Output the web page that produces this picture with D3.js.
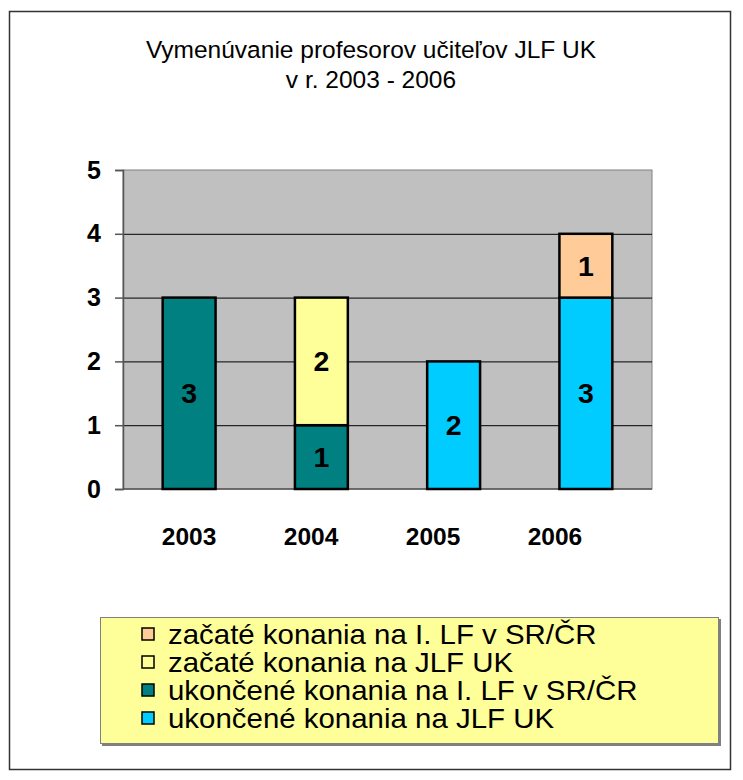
<!DOCTYPE html>
<html>
<head>
<meta charset="utf-8">
<script src="https://cdn.jsdelivr.net/npm/d3@7"></script>
<style>
  body { margin: 0; background: #fff; }
  svg { display: block; font-family: "Liberation Sans", Arial, sans-serif; }
</style>
</head>
<body>
<svg class="svg"></svg>
<script>
let years = ["2003", "2004", "2005", "2006"]
// stacked bottom -> top
let seriesNames = ["ukončené konania na JLF UK",
                   "ukončené konania na I. LF v SR/ČR",
                   "začaté konania na JLF UK",
                   "začaté konania na I. LF v SR/ČR"]
let ukonceneJLF = [0, 0, 2, 3]
let ukonceneILF = [3, 1, 0, 0]
let zacateJLF = [0, 2, 0, 0]
let zacateILF = [0, 0, 0, 1]
let yTicks = [0, 1, 2, 3, 4, 5]
let titleLines = ["Vymenúvanie profesorov učiteľov JLF UK", "v r. 2003 - 2006"]
let colorArr = ["#00CCFF", "#008080", "#FFFF99", "#FFCC99"]

let W = 743, H = 780
let svg = d3.select(".svg").attr("width", W).attr("height", H)

// outer chart border
svg.append("rect")
   .attr("x", 9.5).attr("y", 11.5)
   .attr("width", 721).attr("height", 758)
   .attr("fill", "#fff")
   .attr("stroke", "#333").attr("stroke-width", 1.5)

svg.selectAll(".title")
   .data(titleLines)
   .enter()
   .append("text")
   .attr("class", "title")
   .attr("x", 371)
   .attr("y", (d, i) => 58 + i * 30)
   .attr("text-anchor", "middle")
   .style("font-size", "24.5px")
   .text(d => d)

let plot = {left: 123, right: 652, top: 170, bottom: 489}

let x = d3.scaleBand().domain(years).range([plot.left, plot.right]).paddingInner(0.6).paddingOuter(0.3)
let y = d3.scaleLinear().domain([0, 5]).range([plot.bottom, plot.top])

// plot area
svg.append("rect")
   .attr("x", plot.left).attr("y", plot.top)
   .attr("width", plot.right - plot.left).attr("height", plot.bottom - plot.top)
   .attr("fill", "#C0C0C0")
   .attr("stroke", "#808080").attr("stroke-width", 1)

// gridlines
svg.append("g")
   .selectAll("line")
   .data(yTicks.slice(1, -1))
   .enter()
   .append("line")
   .attr("x1", plot.left).attr("x2", plot.right)
   .attr("y1", d => y(d) + 0.5).attr("y2", d => y(d) + 0.5)
   .attr("stroke", "#000").attr("stroke-width", 1)

// y axis
let yAxis = d3.axisLeft(y).tickValues(yTicks).tickSize(8).tickPadding(14).tickFormat(d3.format("d"))
let yG = svg.append("g").attr("transform", "translate(" + plot.left + ",0)").call(yAxis)
yG.select(".domain").attr("stroke", "#555").attr("stroke-width", 1.5)
yG.selectAll(".tick line").attr("stroke", "#555").attr("stroke-width", 1.5)
yG.selectAll("text")
  .style("font-size", "25px").style("font-weight", "bold")
  .style("font-family", "'Liberation Sans', Arial, sans-serif")
  .attr("fill", "#000")

// baseline
svg.append("line")
   .attr("x1", plot.left).attr("x2", plot.right)
   .attr("y1", plot.bottom).attr("y2", plot.bottom)
   .attr("stroke", "#555").attr("stroke-width", 1.5)

// stacked data
let table = years.map((yr, i) => {
  return {year: yr, s0: ukonceneJLF[i], s1: ukonceneILF[i], s2: zacateJLF[i], s3: zacateILF[i]}
})
let stack = d3.stack().keys(["s0", "s1", "s2", "s3"])
let layers = stack(table)

let layerG = svg.selectAll(".layer")
   .data(layers)
   .enter()
   .append("g")
   .attr("class", "layer")
   .attr("fill", (d, i) => colorArr[i])

layerG.selectAll("rect")
   .data(d => d.filter(p => p[1] > p[0]))
   .enter()
   .append("rect")
   .attr("x", d => x(d.data.year))
   .attr("y", d => y(d[1]))
   .attr("width", x.bandwidth())
   .attr("height", d => y(d[0]) - y(d[1]))
   .attr("stroke", "#000")
   .attr("stroke-width", 2.5)

layerG.selectAll("text")
   .data(d => d.filter(p => p[1] > p[0]))
   .enter()
   .append("text")
   .attr("x", d => x(d.data.year) + x.bandwidth() / 2)
   .attr("y", d => (y(d[0]) + y(d[1])) / 2 + 10)
   .attr("text-anchor", "middle")
   .attr("fill", "#000")
   .style("font-size", "28.5px")
   .style("font-weight", "bold")
   .text(d => d[1] - d[0])

// category labels (Excel placed them a bit off the bar centres)
let xLabel = d3.scalePoint().domain(years).range([x(years[0]) + x.bandwidth() / 2, 555])
svg.selectAll(".cat")
   .data(years)
   .enter()
   .append("text")
   .attr("class", "cat")
   .attr("x", d => xLabel(d))
   .attr("y", 545)
   .attr("text-anchor", "middle")
   .style("font-size", "24.5px")
   .style("font-weight", "bold")
   .text(d => d)

// legend
let legend = svg.append("g").attr("transform", "translate(100,617)")
legend.append("rect")
   .attr("x", 2).attr("y", 2).attr("width", 619).attr("height", 127)
   .attr("fill", "#808080")
legend.append("rect")
   .attr("x", 0.5).attr("y", 0.5).attr("width", 618).attr("height", 126)
   .attr("fill", "#FFFF99").attr("stroke", "#808080").attr("stroke-width", 1)

let legendItems = seriesNames.map((n, i) => ({name: n, color: colorArr[i]})).reverse()
let li = legend.selectAll(".li")
   .data(legendItems)
   .enter()
   .append("g")
   .attr("class", "li")
   .attr("transform", (d, i) => "translate(0," + (17 + i * 28) + ")")
li.append("rect")
   .attr("x", 42).attr("y", -6).attr("width", 12).attr("height", 12)
   .attr("fill", d => d.color)
   .attr("stroke", "#000").attr("stroke-width", 1.5)
// text in the original is a bit wider than Arial at this height
li.append("text")
   .attr("transform", "translate(68,10) scale(1.09,1)")
   .style("font-size", "27px")
   .text(d => d.name)
</script>
</body>
</html>
